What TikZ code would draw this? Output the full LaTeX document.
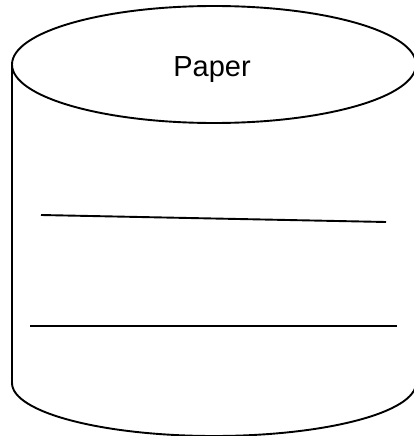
\documentclass[tikz,border=0pt]{standalone}
\usepackage{fontspec}
\setmainfont{Liberation Sans}

\begin{document}
\begin{tikzpicture}[x=1pt,y=-1pt,line width=1.9pt,line join=round]
  \useasboundingbox (0,0) rectangle (413,436);
  \draw (214,64.5) ellipse [x radius=202, y radius=58.5];
  \draw (12,64.5) -- (12,383) arc [start angle=180, end angle=0, x radius=202, y radius=53] -- (416,64.5);
  \draw (41,215) -- (386,222);
  \draw (30,326) -- (397,326);
  \node[anchor=base,inner sep=0pt,font=\fontsize{29}{34}\selectfont] (paper) at (212,77) {Paper};
\end{tikzpicture}
\end{document}
